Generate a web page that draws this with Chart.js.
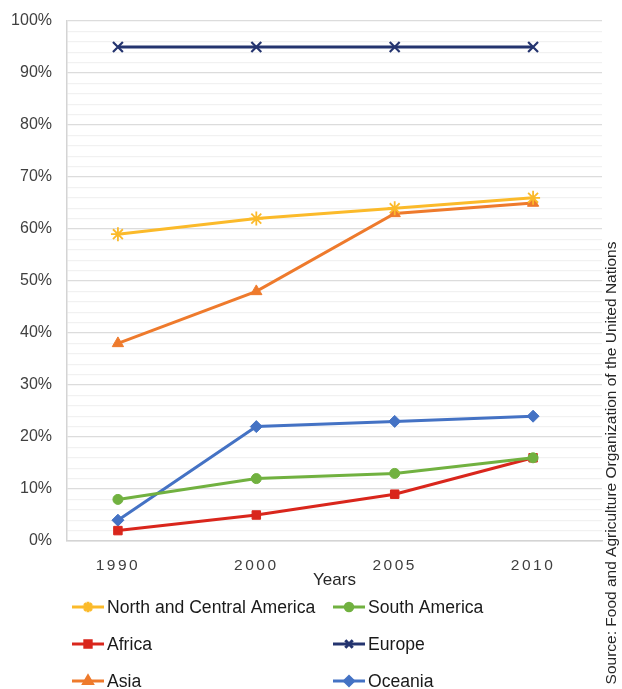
<!DOCTYPE html>
<html><head><meta charset="utf-8">
<script src="https://cdn.jsdelivr.net/npm/chart.js@4/dist/chart.umd.min.js"></script>
<style>html,body{margin:0;padding:0;background:#fff}#wrap{width:622px;height:689px;position:relative}</style>
</head><body><div id="wrap"><canvas id="c" width="622" height="689"></canvas></div>
<script>
const categories = ['1990', '2000', '2005', '2010'];
const northCentralAmerica = [59, 62, 64, 66];
const southAmerica = [8, 12, 13, 16];
const africa = [2, 5, 9, 16];
const europe = [95, 95, 95, 95];
const asia = [38, 48, 63, 65];
const oceania = [4, 22, 23, 24];
const yTicks = [0, 10, 20, 30, 40, 50, 60, 70, 80, 90, 100];
const sourceText = 'Source: Food and Agriculture Organization of the United Nations';
const xTitle = 'Years';

const toPts = arr => arr.map((v, i) => ({x: i, y: v}));
function ds(label, data, color, style, radius, bw) {
  return {label, data: toPts(data), borderColor: color, backgroundColor: color,
    pointStyle: style, pointRadius: radius, pointBorderWidth: bw, pointBackgroundColor: color,
    pointBorderColor: color, borderWidth: 3, tension: 0};
}
const datasets = [
  ds('North and Central America', northCentralAmerica, '#FBBA2A', 'star', 7, 1.8),
  ds('South America', southAmerica, '#71B140', 'circle', 5, 1),
  ds('Africa', africa, '#D9261C', 'rect', 6, 1),
  ds('Europe', europe, '#24346F', 'crossRot', 7, 2.2),
  ds('Asia', asia, '#EE7A2C', 'triangle', 6.5, 1),
  ds('Oceania', oceania, '#4472C4', 'rectRot', 6, 1)
];

const extras = {
  id: 'extras',
  afterDraw(chart) {
    const ctx = chart.ctx;
    const H = Chart.helpers;
    const cols = [72, 333];
    const rows = [607, 644, 681];
    ctx.save();
    chart.data.datasets.forEach((d, i) => {
      const x = cols[i % 2], y = rows[Math.floor(i / 2)];
      ctx.strokeStyle = d.borderColor; ctx.lineWidth = 3;
      ctx.beginPath(); ctx.moveTo(x, y); ctx.lineTo(x + 32, y); ctx.stroke();
      ctx.fillStyle = d.borderColor;
      H.drawPoint(ctx, {pointStyle: d.pointStyle, radius: d.pointRadius * 0.75, borderWidth: d.pointBorderWidth}, x + 16, y);
      ctx.fillStyle = '#1a1a1a';
      ctx.font = '17.6px "Liberation Sans", Arial, sans-serif';
      ctx.textBaseline = 'middle'; ctx.textAlign = 'left';
      ctx.fillText(d.label, x + 35, y + 1);
    });
    ctx.translate(612, 463);
    ctx.rotate(-Math.PI / 2);
    ctx.font = '15.5px "Liberation Sans", Arial, sans-serif';
    ctx.fillStyle = '#262626';
    ctx.textAlign = 'center'; ctx.textBaseline = 'middle';
    ctx.fillText(sourceText, 0, 0);
    ctx.restore();
  },
  afterLayout(chart) {
    const s = chart.scales.x;
    if (!s._wrapped) {
      const orig = s.drawLabels.bind(s);
      s.drawLabels = function (area) {
        const c = chart.ctx; c.save(); c.letterSpacing = '2.5px'; orig(area); c.restore();
      };
      s._wrapped = true;
    }
  }
};

new Chart(document.getElementById('c'), {
  type: 'line',
  data: {datasets},
  options: {
    responsive: false, animation: false,
    layout: {padding: {top: 21, right: 20, bottom: 98, left: 0}},
    plugins: {legend: {display: false}, tooltip: {enabled: false}},
    scales: {
      x: {
        type: 'linear', min: -0.368, max: 3.498,
        afterBuildTicks: sc => { sc.ticks = categories.map((c, i) => ({value: i})); },
        afterFit: sc => { sc.height = 50; sc.paddingTop = 0; sc.paddingBottom = 0; },
        grid: {display: false, drawTicks: false},
        border: {color: '#d4d4d4', width: 1.5},
        ticks: {padding: 15, color: '#404040', font: {size: 15.5, family: '"Liberation Sans", Arial, sans-serif'},
          callback: v => categories[v], maxRotation: 0, autoSkip: false},
        title: {display: true, text: xTitle, color: '#262626', padding: 0,
          font: {size: 17, family: '"Liberation Sans", Arial, sans-serif'}}
      },
      y: {
        min: 0, max: 100,
        afterBuildTicks: sc => {
          const t = [];
          for (let v = 0; v <= 100; v += 2) t.push({value: v});
          sc.ticks = t;
        },
        afterFit: sc => { sc.width = 67; sc.paddingTop = 0; sc.paddingBottom = 0; },
        grid: {drawTicks: false, lineWidth: 1.2,
          color: c => (yTicks.includes(c.tick.value) ? '#dcdcdc' : '#f1f1f1')},
        border: {color: '#d4d4d4', width: 1.5},
        ticks: {padding: 15, color: '#404040', autoSkip: false,
          font: {size: 16, family: '"Liberation Sans", Arial, sans-serif'},
          callback: v => (yTicks.includes(v) ? v + '%' : '')}
      }
    }
  },
  plugins: [extras]
});
</script></body></html>
